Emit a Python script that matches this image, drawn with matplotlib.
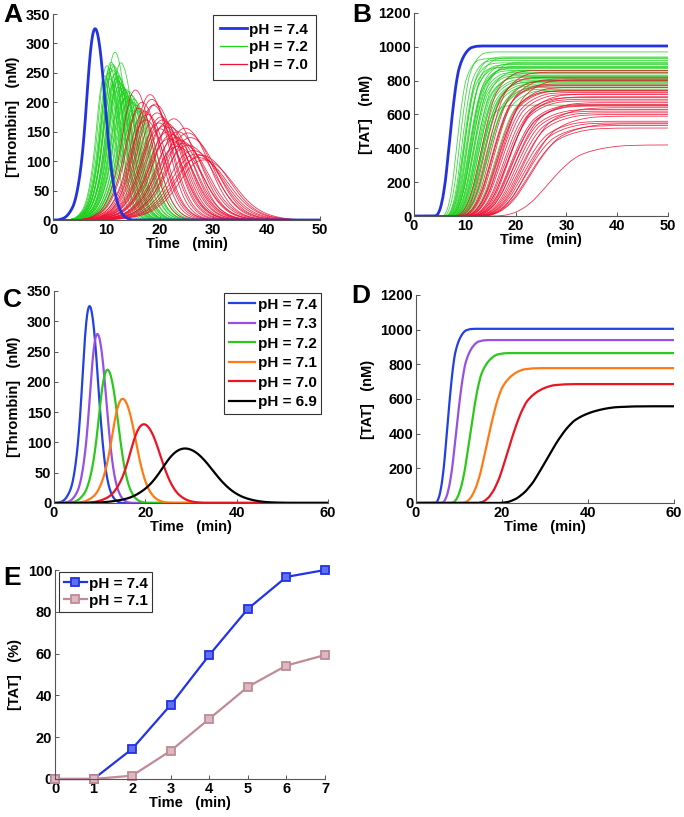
import matplotlib
matplotlib.use("Agg")
import matplotlib.pyplot as plt
from matplotlib.lines import Line2D
import numpy as np

# ---- shape templates read from the single curves of panels C and D ----
# thrombin pulse, u = (t - t_peak) / w, value relative to the peak
pulse_u = [-3.0, -2.75, -2.5, -2.25, -2.0, -1.75, -1.5, -1.25, -1.0, -0.75, -0.5, -0.25,
           0.0, 0.25, 0.5, 0.75, 1.0, 1.25, 1.5, 1.75, 2.0, 2.25, 2.5, 2.75, 3.0, 3.25]
pulse_v = [0.003, 0.006, 0.013, 0.028, 0.05, 0.08, 0.14, 0.23, 0.36, 0.55, 0.78, 0.94,
           1.0, 0.97, 0.87, 0.71, 0.52, 0.35, 0.22, 0.13, 0.075, 0.04, 0.02, 0.009, 0.003, 0.0]
# TAT rise, u = (t - t_half) / w, value relative to the plateau
rise_u = [-3.0, -2.5, -2.0, -1.5, -1.0, -0.5, 0.0, 0.5, 1.0, 1.5, 2.0, 2.5, 3.0, 3.5, 4.0, 5.0, 6.0]
rise_v = [0.0, 0.01, 0.045, 0.11, 0.21, 0.35, 0.5, 0.64, 0.76, 0.85, 0.9, 0.935, 0.96,
          0.978, 0.99, 0.998, 1.0]

# ---- panel A: thrombin, ensembles (peak time min, peak nM, width min) ----
a_blue = (7.8, 325, 2.2)
green_peak_t = [9.6, 10.0, 10.3, 10.5, 10.6, 10.8, 11.0, 11.1, 11.2, 11.3, 11.5, 11.5,
                11.7, 11.8, 12.0, 12.1, 12.2, 12.3, 12.5, 12.6, 12.8, 13.0, 13.0, 13.2,
                13.4, 13.5, 13.7, 14.0, 14.2, 14.5, 14.6, 14.8, 15.0, 15.3, 15.6, 16.0]
green_peak_nM = [245, 262, 250, 240, 258, 268, 264, 255, 230, 262, 285, 248,
                 240, 252, 245, 236, 226, 242, 232, 267, 228, 225, 215, 220,
                 208, 222, 210, 218, 205, 212, 198, 200, 205, 195, 190, 185]
green_peak_w = [2.2, 2.3, 2.4, 2.5, 2.4, 2.5, 2.6, 2.5, 2.7, 2.6, 2.6, 2.8,
                2.7, 2.7, 2.8, 2.9, 3.0, 2.8, 2.9, 2.8, 3.0, 3.0, 3.2, 3.1,
                3.2, 3.1, 3.3, 3.2, 3.4, 3.3, 3.5, 3.5, 3.4, 3.6, 3.7, 3.8]
red_peak_t = [15.3, 16.0, 16.5, 17.0, 17.2, 17.5, 18.0, 18.3, 18.6, 19.0, 19.3, 19.6,
              19.8, 20.0, 20.3, 20.6, 21.0, 21.3, 21.5, 21.7, 22.0, 22.4, 22.8, 23.0,
              23.2, 23.6, 24.0, 24.5, 25.0, 25.0, 25.5, 26.0, 26.5, 27.0, 27.5, 28.0]
red_peak_nM = [221, 190, 200, 185, 170, 180, 213, 205, 195, 197, 182, 165,
               155, 175, 170, 160, 165, 150, 138, 158, 145, 172, 140, 125,
               150, 135, 130, 156, 148, 127, 140, 118, 112, 106, 110, 102]
red_peak_w = [3.5, 3.8, 3.9, 4.0, 4.2, 4.1, 4.0, 4.2, 4.3, 4.4, 4.5, 4.7,
              4.8, 4.6, 4.7, 4.9, 4.8, 5.0, 5.2, 5.0, 5.2, 4.8, 5.3, 5.5,
              5.2, 5.5, 5.6, 5.3, 5.5, 5.9, 5.7, 6.0, 6.1, 6.3, 6.2, 6.4]

# ---- panel B: TAT, ensembles (half time min, plateau nM, width min) ----
b_blue = (7.2, 1005, 1.0)
green_tat_half = [8.6, 9.2, 9.6, 9.9, 10.0, 10.2, 10.4, 10.6, 10.8, 11.0, 11.1, 11.3,
                  11.4, 11.5, 11.6, 11.8, 12.0, 12.1, 12.3, 12.5, 12.6, 12.7, 12.9, 13.0,
                  13.1, 13.3, 13.5, 13.6, 13.8, 14.0, 14.3, 14.6, 14.8, 15.0, 15.6, 16.4]
green_tat_final = [930, 970, 920, 905, 880, 940, 880, 895, 935, 870, 860, 900,
                   875, 850, 885, 840, 830, 910, 820, 860, 825, 810, 800, 655,
                   845, 790, 780, 795, 770, 815, 760, 750, 770, 800, 745, 740]
green_tat_w = [1.0, 1.1, 1.1, 1.2, 1.2, 1.2, 1.3, 1.3, 1.3, 1.4, 1.4, 1.4,
               1.4, 1.5, 1.5, 1.5, 1.5, 1.6, 1.6, 1.6, 1.6, 1.7, 1.7, 1.2,
               1.7, 1.7, 1.8, 1.8, 1.8, 1.9, 1.9, 1.9, 2.0, 2.0, 2.1, 2.2]
red_tat_half = [13.5, 14.2, 14.8, 15.3, 15.6, 15.8, 16.2, 16.6, 16.8, 17.0, 17.3, 17.5,
                17.6, 18.0, 18.3, 18.6, 18.8, 19.0, 19.3, 19.5, 19.6, 20.0, 20.2, 20.4,
                20.8, 21.2, 21.6, 21.8, 22.0, 22.5, 22.8, 23.0, 23.5, 27.0]
red_tat_final = [860, 820, 850, 800, 770, 780, 810, 740, 740, 760, 730, 805,
                 720, 700, 690, 680, 705, 720, 660, 655, 650, 630, 670, 620,
                 610, 600, 560, 640, 550, 535, 590, 520, 545, 420]
red_tat_w = [1.8, 1.9, 2.0, 2.0, 2.1, 2.1, 2.2, 2.2, 2.3, 2.3, 2.3, 2.4,
             2.4, 2.4, 2.5, 2.5, 2.6, 2.5, 2.6, 2.7, 2.6, 2.7, 2.8, 2.7,
             2.8, 2.9, 2.9, 3.0, 3.0, 3.1, 3.1, 3.2, 3.3, 3.6]

# ---- panels C and D: one curve per pH ----
ph_labels = ["pH = 7.4", "pH = 7.3", "pH = 7.2", "pH = 7.1", "pH = 7.0", "pH = 6.9"]
ph_colors = ["#2340e0", "#9650e6", "#2cc81c", "#ff7a14", "#eb1420", "#000000"]
c_peak_t = [7.7, 9.4, 11.6, 14.9, 19.5, 28.4]
c_peak_nM = [325, 279, 220, 172, 130, 90]
c_peak_w = [2.2, 2.3, 2.7, 3.3, 4.2, 7.0]
d_half_t = [7.5, 9.6, 12.8, 16.9, 21.9, 31.0]
d_final_nM = [1005, 940, 865, 778, 686, 558]
d_rise_w = [1.0, 1.2, 1.5, 2.0, 2.5, 3.8]

# ---- panel E: measured TAT (%) ----
e_time = [0, 1, 2, 3, 4, 5, 6, 7]
e_tat_74 = [0, 0, 14.4, 35.5, 59.3, 81.4, 96.7, 100]
e_tat_71 = [0, 0, 1.6, 13.5, 28.8, 44.1, 54.3, 59.3]

W, H = 684, 817
plt.rcParams["font.family"] = ["Liberation Sans", "DejaVu Sans"]
plt.rcParams["font.weight"] = "bold"
plt.rcParams["axes.labelweight"] = "bold"

GREEN = "#1ed21e"
RED = "#ee1133"
BLUE = "#2233e0"


def smooth_template(u, v, lo, hi, left, right):
    """Resample a template on a fine grid and round off its corners."""
    uf = np.arange(lo, hi, 0.02)
    vf = np.interp(uf, u, v, left=left, right=right)
    k = np.ones(13) / 13
    for _ in range(2):
        vf = np.convolve(np.pad(vf, 6, mode="edge"), k, mode="valid")
    return uf, vf


PULSE_U, PULSE_V = smooth_template(pulse_u, pulse_v, -4.0, 4.0, 0.0, 0.0)
PULSE_V = PULSE_V / PULSE_V.max()
RISE_U, RISE_V = smooth_template(rise_u, rise_v, -4.0, 7.0, 0.0, 1.0)


def pulse(t, t_peak, height, w):
    return height * np.interp((t - t_peak) / w, PULSE_U, PULSE_V, left=0.0, right=0.0)


def rise(t, t_half, final, w):
    return final * np.interp((t - t_half) / w, RISE_U, RISE_V, left=0.0, right=1.0)


def add_panel(left, top, right, bottom):
    return fig.add_axes([left / W, 1 - bottom / H, (right - left) / W, (bottom - top) / H])


def style(ax, xlim, ylim, xticks, yticks, ylabel):
    ax.set_xlim(*xlim)
    ax.set_ylim(*ylim)
    ax.set_xticks(xticks)
    ax.set_yticks(yticks)
    for side in ("top", "right"):
        ax.spines[side].set_visible(False)
    for side in ("left", "bottom"):
        ax.spines[side].set_color("#555555")
        ax.spines[side].set_linewidth(0.8)
    ax.tick_params(direction="in", length=3, width=0.7, color="#555555", labelsize=10.5)
    ax.tick_params(axis="x", pad=2)
    ax.tick_params(axis="y", pad=2)
    ax.set_xlabel("Time   (min)", fontsize=10.5, labelpad=0)
    ax.set_ylabel(ylabel, fontsize=10.5, labelpad=4)


def add_legend(ax, handles, loc, anchor, **kw):
    leg = ax.legend(handles=handles, loc=loc, bbox_to_anchor=anchor, fontsize=11,
                    frameon=True, fancybox=False, framealpha=1, edgecolor="#333333",
                    borderaxespad=0, handletextpad=0.15, **kw)
    leg.get_frame().set_linewidth(0.8)
    return leg


fig = plt.figure(figsize=(W / 100, H / 100), dpi=100)

# ---------------- A ----------------
ax = add_panel(53, 14, 320, 220)
t = np.linspace(0, 50, 1201)
for tp, h, w in zip(green_peak_t, green_peak_nM, green_peak_w):
    ax.plot(t, pulse(t, tp, h, w), color=GREEN, lw=0.6, alpha=0.85)
for tp, h, w in zip(red_peak_t, red_peak_nM, red_peak_w):
    ax.plot(t, pulse(t, tp, h, w), color=RED, lw=0.6, alpha=0.85)
ax.plot(t, pulse(t, *a_blue), color=BLUE, lw=2)
style(ax, (0, 50), (0, 350), range(0, 51, 10), range(0, 351, 50), "[Thrombin]   (nM)")
legend_a = [Line2D([], [], color=BLUE, lw=2, label="pH = 7.4"),
            Line2D([], [], color=GREEN, lw=0.9, label="pH = 7.2"),
            Line2D([], [], color=RED, lw=0.9, label="pH = 7.0")]
add_legend(ax, legend_a, "upper right", (0.985, 0.995),
           handlelength=1.75, borderpad=0.5, labelspacing=0.25)

# ---------------- B ----------------
ax = add_panel(414, 13, 668, 216)
for th, f, w in zip(green_tat_half, green_tat_final, green_tat_w):
    ax.plot(t, rise(t, th, f, w), color=GREEN, lw=0.6, alpha=0.85)
for th, f, w in zip(red_tat_half, red_tat_final, red_tat_w):
    ax.plot(t, rise(t, th, f, w), color=RED, lw=0.6, alpha=0.85)
ax.plot(t, rise(t, *b_blue), color=BLUE, lw=2)
style(ax, (0, 50), (0, 1200), range(0, 51, 10), range(0, 1201, 200), "[TAT]   (nM)")

# ---------------- C ----------------
ax = add_panel(54, 291, 328, 503)
t = np.linspace(0, 60, 1201)
handles = []
for lab, col, tp, h, w in zip(ph_labels, ph_colors, c_peak_t, c_peak_nM, c_peak_w):
    line, = ax.plot(t, pulse(t, tp, h, w), color=col, lw=1.6, label=lab)
    handles.append(line)
style(ax, (0, 60), (0, 350), range(0, 61, 20), range(0, 351, 50), "[Thrombin]   (nM)")
add_legend(ax, handles, "upper right", (0.975, 0.99), handlelength=1.75,
           borderpad=0.3, labelspacing=0.36)

# ---------------- D ----------------
ax = add_panel(416, 295, 674, 503)
for col, th, f, w in zip(ph_colors, d_half_t, d_final_nM, d_rise_w):
    ax.plot(t, rise(t, th, f, w), color=col, lw=1.6)
style(ax, (0, 60), (0, 1200), range(0, 61, 20), range(0, 1201, 200), "[TAT]   (nM)")

# ---------------- E ----------------
ax = add_panel(55, 570, 325, 779)
l71, = ax.plot(e_time, e_tat_71, color="#c08a96", lw=1.6, marker="s", ms=6,
               mfc="#dcb8c0", mew=1.3, label="pH = 7.1", clip_on=False)
l74, = ax.plot(e_time, e_tat_74, color="#2233e6", lw=1.6, marker="s", ms=6,
               mfc="#6070f0", mew=1.3, label="pH = 7.4", clip_on=False, zorder=1.9)
style(ax, (0, 7), (0, 100), range(0, 8), range(0, 101, 20), "[TAT]   (%)")
add_legend(ax, [l74, l71], "upper left", (0.015, 0.99), handlelength=1.5, numpoints=1,
           borderpad=0.3, labelspacing=0.2)

# panel letters
for letter, x, y in [("A", 3, 3), ("B", 352, 3), ("C", 3, 288), ("D", 351, 284), ("E", 3, 566)]:
    fig.text(x / W, 1 - y / H, letter, fontsize=19, fontweight="bold", ha="left", va="top")

fig.savefig("out.png", dpi=100)
plt.close(fig)
